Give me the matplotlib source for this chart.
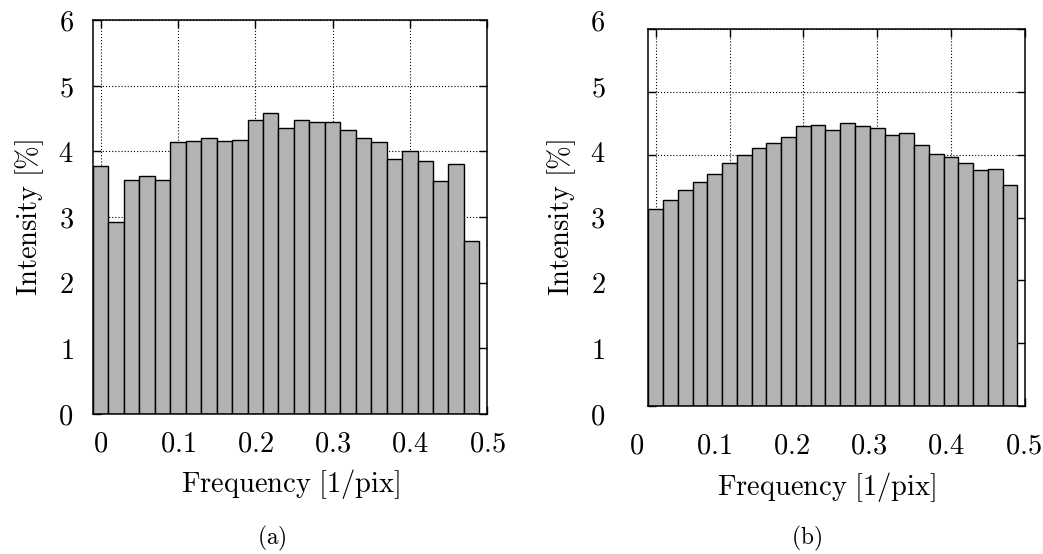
import matplotlib
matplotlib.use("Agg")
import matplotlib.pyplot as plt

plt.rcParams["mathtext.fontset"] = "cm"
plt.rcParams["font.family"] = "serif"
plt.rcParams["font.serif"] = ["DejaVu Serif"]

# Bin centres (1/pix) shared by both histograms
freq = [0.00, 0.02, 0.04, 0.06, 0.08, 0.10, 0.12, 0.14, 0.16, 0.18,
        0.20, 0.22, 0.24, 0.26, 0.28, 0.30, 0.32, 0.34, 0.36, 0.38,
        0.40, 0.42, 0.44, 0.46, 0.48]

# Intensity [%] per frequency bin
intensity_a = [3.78, 2.93, 3.57, 3.62, 3.56, 4.14, 4.15, 4.21, 4.15, 4.18,
               4.48, 4.59, 4.36, 4.48, 4.44, 4.44, 4.32, 4.20, 4.14, 3.89,
               4.00, 3.86, 3.55, 3.81, 2.63]
intensity_b = [3.13, 3.28, 3.44, 3.56, 3.69, 3.87, 3.99, 4.11, 4.18, 4.29,
               4.46, 4.48, 4.39, 4.50, 4.46, 4.42, 4.31, 4.34, 4.15, 4.02,
               3.96, 3.87, 3.76, 3.77, 3.52]

xticks = [0.0, 0.1, 0.2, 0.3, 0.4, 0.5]
xtick_labels = ["0", "0.1", "0.2", "0.3", "0.4", "0.5"]
yticks = [0, 1, 2, 3, 4, 5, 6]
ytick_labels = ["0", "1", "2", "3", "4", "5", "6"]

xlabel = r"$\mathrm{Frequency\ [1/pix]}$"
ylabel = r"$\mathrm{Intensity\ [\%]}$"

FS = 20.5
BAR_W = 0.02
BAR_COLOR = "#b3b3b3"

fig = plt.figure(figsize=(10.43, 5.54), dpi=100)


def math(labels):
    return ["$%s$" % s for s in labels]


def style_frame(ax):
    ax.set_xlim(-0.01, 0.5)
    ax.set_ylim(0, 6)
    ax.set_xticks(xticks)
    ax.set_yticks(yticks)
    ax.grid(True, color="black", linestyle=(0, (1, 1.8)), linewidth=0.8)
    ax.set_axisbelow(True)
    ax.tick_params(direction="in", length=6, width=1.0, top=True, right=True,
                   labelsize=FS)
    for sp in ax.spines.values():
        sp.set_linewidth(1.1)


def draw_bars(ax, values):
    ax.bar(freq, values, width=BAR_W, color=BAR_COLOR, edgecolor="black",
           linewidth=1.0, zorder=2)


# Panel (a)
ax_a = fig.add_axes([0.0892, 0.2527, 0.3778, 0.7112])
draw_bars(ax_a, intensity_a)
style_frame(ax_a)
ax_a.set_xticklabels(math(xtick_labels))
ax_a.set_yticklabels(math(ytick_labels))
ax_a.tick_params(axis="x", pad=12)
ax_a.tick_params(axis="y", pad=14)
ax_a.set_xlabel(xlabel, fontsize=FS, labelpad=7)
ax_a.set_ylabel(ylabel, fontsize=FS, labelpad=9)

# Panel (b): plot frame
ax_b = fig.add_axes([0.6216, 0.2677, 0.3609, 0.6794])
draw_bars(ax_b, intensity_b)
style_frame(ax_b)
ax_b.set_xticklabels([])
ax_b.set_yticklabels([])

# Panel (b): tick labels and axis titles laid out on a separate frame
ax_bl = fig.add_axes([0.6031, 0.2527, 0.3778, 0.7112])
ax_bl.patch.set_visible(False)
for sp in ax_bl.spines.values():
    sp.set_visible(False)
ax_bl.set_xlim(-0.01, 0.5)
ax_bl.set_ylim(0, 6)
ax_bl.set_xticks(xticks, math(xtick_labels))
ax_bl.set_yticks(yticks, math(ytick_labels))
ax_bl.tick_params(length=0, labelsize=FS)
ax_bl.tick_params(axis="x", pad=13)
ax_bl.tick_params(axis="y", pad=17)
ax_bl.set_xlabel(xlabel, fontsize=FS, labelpad=8)
ax_bl.set_ylabel(ylabel, fontsize=FS, labelpad=9)

# Sub-figure captions
fig.text(272 / 1043, 1 - 538 / 554, r"$\mathrm{(a)}$", fontsize=FS * 0.82,
         ha="center", va="center")
fig.text(806 / 1043, 1 - 538 / 554, r"$\mathrm{(b)}$", fontsize=FS * 0.82,
         ha="center", va="center")

fig.savefig("out.png", dpi=100)
